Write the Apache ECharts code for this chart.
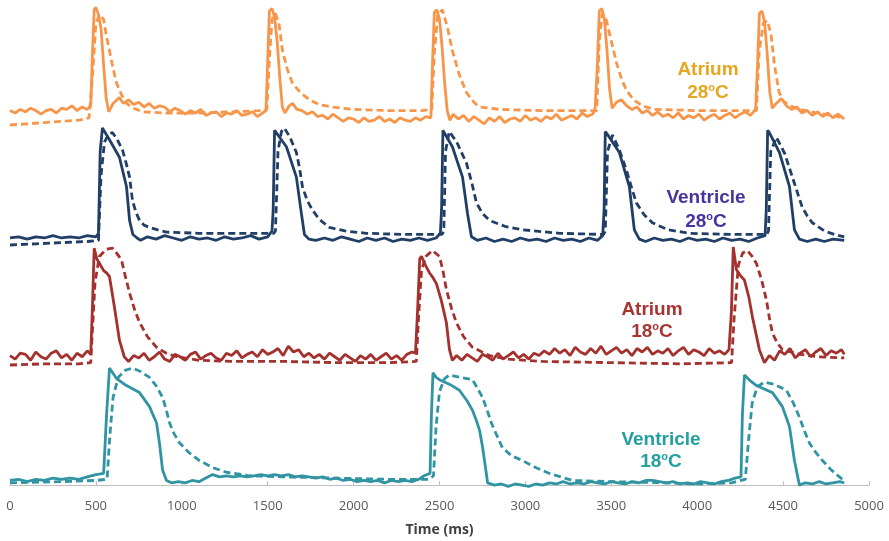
<!DOCTYPE html>
<html>
<head>
<meta charset="utf-8">
<title>Optical action potentials</title>
<script src="https://cdn.jsdelivr.net/npm/echarts@6/dist/echarts.min.js"></script>
<style>
  html, body { margin: 0; padding: 0; background: #fff; }
  #chart { width: 889px; height: 541px; }
</style>
</head>
<body>
<div id="chart"></div>
<script>
// Time axis (ms)
const timeMin = 0;
const timeMax = 5000;
const timeStep = 500;

// Trace names
const traceNames = ['Atrium 28°C', 'Ventricle 28°C', 'Atrium 18°C', 'Ventricle 18°C'];

// Normalised signal (a.u.), [time ms, value] - solid = control, dashed = treated
const atrium28Solid = [
  [0,12],[30,10],[60,13],[90,11],[120,14],[150,12],[180,9],[210,12],[240,13],[270,10],[300,14],[330,13],[360,16],[390,12],[420,15],[450,13],[470,16],
  [480,60],[490,96],[500,98],[515,92],[530,80],[545,50],[560,22],[575,11],[600,18],[637,23],[660,18],[690,21],[720,17],[750,19],[780,15],[810,18],[840,14],[870,16],[900,15],[930,11],[960,14],[990,12],[1020,9],[1050,12],[1080,10],[1110,13],[1140,8],[1170,10],[1200,11],[1230,7],[1260,10],[1290,9],[1320,12],[1350,8],[1380,9],[1410,11],[1440,7],[1470,10],[1490,12],
  [1499,50],[1510,95],[1525,97],[1540,90],[1555,70],[1570,40],[1585,15],[1600,10],[1625,16],[1645,18],[1670,13],[1700,12],[1730,9],[1760,11],[1790,7],[1820,8],[1850,5],[1880,9],[1910,6],[1940,3],[1970,6],[2000,5],[2030,2],[2060,6],[2090,3],[2120,4],[2150,7],[2180,3],[2210,5],[2240,2],[2270,6],[2300,4],[2330,3],[2360,6],[2390,4],[2420,7],[2450,6],
  [2459,50],[2470,94],[2485,96],[2500,88],[2515,65],[2530,35],[2545,12],[2560,4],[2580,9],[2610,5],[2640,8],[2670,3],[2700,7],[2730,4],[2760,1],[2790,6],[2820,3],[2850,7],[2880,2],[2910,5],[2940,6],[2970,3],[3000,8],[3030,4],[3060,6],[3090,3],[3120,7],[3150,5],[3180,9],[3210,4],[3240,6],[3270,8],[3300,5],[3330,10],[3360,7],[3390,9],[3405,12],
  [3419,50],[3430,95],[3445,97],[3460,88],[3475,62],[3490,30],[3505,14],[3530,19],[3558,21],[3590,16],[3620,13],[3650,15],[3680,10],[3710,12],[3740,8],[3770,11],[3800,7],[3830,9],[3860,6],[3890,10],[3920,5],[3950,8],[3980,6],[4010,9],[4040,4],[4070,7],[4100,9],[4130,5],[4160,8],[4190,10],[4220,6],[4250,9],[4280,11],[4310,8],[4340,13],
  [4351,50],[4362,93],[4377,95],[4392,86],[4407,60],[4422,28],[4437,14],[4460,18],[4490,22],[4520,16],[4550,13],[4580,15],[4610,10],[4640,12],[4670,8],[4700,11],[4730,7],[4760,10],[4790,6],[4820,9],[4856,5]
];
const atrium28Dashed = [
  [0,0],[100,1],[200,2],[300,3],[400,4],[460,6],[480,40],[500,85],[521,92],[545,88],[560,75],[579,62],[600,47],[620,35],[650,25],[678,18],[720,14],[771,11],[900,10],[1100,10],[1300,11],[1450,12],
  [1495,13],[1510,55],[1525,88],[1545,93],[1565,85],[1586,62],[1615,46],[1644,35],[1690,27],[1743,21],[1800,17],[1877,15],[2000,13],[2200,12],[2400,12],
  [2455,13],[2470,60],[2490,92],[2517,96],[2545,82],[2575,62],[2615,42],[2657,27],[2700,19],[2733,15],[2850,13],[3100,12],
  [3415,12],[3430,70],[3448,93],[3470,88],[3500,70],[3530,52],[3560,38],[3588,29],[3630,21],[3680,16],[3750,13],[4000,12],
  [4345,12],[4360,60],[4385,85],[4409,87],[4430,75],[4450,50],[4475,28],[4500,20],[4540,16],[4600,13],[4700,10],[4856,6]
];
const ventricle28Solid = [
  [0,6],[50,7],[100,5],[150,7],[200,6],[250,8],[300,6],[350,7],[400,6],[450,8],[500,7],[515,10],
  [525,80],[538,100],[579,90],[637,75],[678,50],[696,21],[715,9],[740,6],[760,4],[800,7],[850,5],[900,8],[950,6],[1000,4],[1050,7],[1100,5],[1150,6],[1200,4],[1250,7],[1300,5],[1350,6],[1400,8],[1450,5],[1500,7],[1525,12],
  [1532,30],[1540,98],[1550,98],[1609,84],[1667,58],[1696,27],[1714,9],[1740,5],[1780,4],[1830,6],[1880,4],[1930,7],[1980,5],[2030,3],[2080,6],[2130,4],[2180,6],[2230,3],[2280,5],[2330,4],[2380,6],[2430,4],[2480,6],[2505,10],
  [2512,30],[2520,98],[2530,97],[2575,84],[2634,58],[2663,27],[2686,7],[2720,4],[2770,6],[2820,3],[2870,5],[2920,3],[2970,6],[3020,4],[3070,5],[3120,3],[3170,6],[3220,4],[3270,5],[3320,3],[3370,6],[3420,4],[3450,8],
  [3458,30],[3465,97],[3475,95],[3547,79],[3605,50],[3634,13],[3663,5],[3700,3],[3750,6],[3800,4],[3850,5],[3900,3],[3950,6],[4000,4],[4050,5],[4100,3],[4150,6],[4200,4],[4250,5],[4300,3],[4350,6],[4395,8],
  [4402,30],[4410,98],[4420,96],[4479,79],[4537,50],[4566,13],[4595,5],[4640,3],[4690,5],[4740,3],[4790,5],[4856,4]
];
const ventricle28Dashed = [
  [0,0],[150,1],[300,2],[450,3],[515,4],[530,60],[550,88],[575,95],[597,96],[625,90],[655,81],[676,70],[696,58],[713,38],[733,28],[754,21],[780,17],[812,15],[860,13],[911,11],[1100,10],[1300,10],[1535,10],
  [1545,12],[1560,80],[1580,97],[1597,100],[1630,92],[1667,79],[1685,66],[1702,50],[1730,38],[1760,30],[1800,22],[1859,15],[1950,12],[2074,10],[2300,9],[2515,9],
  [2525,12],[2535,80],[2557,97],[2600,88],[2657,70],[2690,52],[2715,36],[2750,27],[2791,21],[2880,16],[2983,13],[3200,10],[3455,9],
  [3465,12],[3478,80],[3507,94],[3545,82],[3588,64],[3620,48],[3646,36],[3690,26],[3739,19],[3830,13],[3954,10],[4200,9],[4405,9],
  [4415,12],[4428,80],[4461,92],[4510,78],[4554,58],[4585,44],[4612,32],[4640,25],[4670,19],[4740,12],[4800,9],[4856,7]
];
const atrium18Solid = [
  [0,8],[30,5],[60,10],[90,9],[120,4],[150,11],[180,7],[210,5],[240,10],[270,12],[300,6],[330,9],[360,4],[390,10],[420,7],[450,12],[470,9],
  [480,50],[490,99],[505,90],[521,86],[545,80],[562,78],[579,75],[608,49],[637,21],[665,7],
  [690,3],[720,8],[750,6],[780,10],[810,4],[840,7],[870,11],[900,5],[930,3],[960,9],[990,7],[1020,4],[1050,9],[1080,11],[1110,5],[1140,8],[1170,10],[1200,6],[1230,4],[1260,10],[1290,8],[1320,12],[1350,6],[1380,9],[1410,11],[1440,7],[1470,13],[1500,9],[1530,11],[1560,14],[1590,8],[1620,16],[1650,11],[1680,13],[1710,7],[1740,10],[1770,6],[1800,9],[1830,5],[1860,10],[1890,7],[1920,4],[1950,9],[1980,6],[2010,3],[2040,8],[2070,5],[2100,9],[2130,4],[2160,7],[2190,10],[2220,5],[2250,8],[2280,4],[2310,9],[2340,11],[2360,10],
  [2372,45],[2385,90],[2395,92],[2420,84],[2442,78],[2462,74],[2482,69],[2510,55],[2540,36],[2558,13],[2575,4],
  [2600,8],[2630,4],[2660,9],[2690,6],[2720,3],[2750,9],[2780,7],[2810,4],[2840,10],[2870,5],[2900,8],[2930,11],[2960,6],[2990,9],[3020,5],[3050,10],[3080,8],[3110,12],[3140,9],[3170,14],[3200,10],[3230,13],[3260,8],[3290,15],[3320,11],[3350,9],[3380,14],[3410,10],[3440,16],[3470,9],[3500,12],[3530,15],[3560,10],[3590,13],[3620,8],[3650,14],[3680,11],[3710,15],[3740,9],[3770,12],[3800,10],[3830,14],[3860,8],[3890,12],[3920,15],[3950,9],[3980,13],[4010,11],[4040,8],[4070,14],[4100,10],[4130,12],[4160,9],[4185,13],
  [4199,45],[4210,100],[4228,81],[4250,76],[4275,72],[4300,58],[4321,41],[4362,13],[4391,2],
  [4420,8],[4450,4],[4480,12],[4510,9],[4540,14],[4570,6],[4600,10],[4630,13],[4660,7],[4690,11],[4720,14],[4750,8],[4780,12],[4810,10],[4840,13],[4856,9]
];
const atrium18Dashed = [
  [0,0],[200,1],[400,1],[470,2],[480,30],[495,70],[520,92],[560,98],[597,99],[625,94],[649,89],[670,76],[696,61],[725,47],[754,36],[800,24],[853,15],[910,10],[969,7],[1100,4],[1300,3],[1600,3],[1900,2],[2200,2],[2365,3],
  [2378,40],[2395,80],[2420,92],[2459,97],[2500,92],[2520,80],[2540,64],[2570,48],[2598,36],[2640,24],[2692,15],[2791,8],[2900,5],[3100,3],[3500,2],[3900,1],[4200,2],
  [4215,40],[4240,85],[4265,95],[4292,97],[4320,92],[4345,86],[4375,72],[4403,55],[4420,40],[4438,27],[4465,19],[4496,13],[4600,9],[4700,7],[4856,6]
];
const ventricle18Solid = [
  [0,4],[50,5],[100,3],[150,5],[200,4],[250,6],[300,5],[350,6],[400,5],[450,7],[500,9],[545,10],
  [562,60],[579,100],[620,91],[678,85],[754,79],[812,67],[853,53],[870,36],[888,13],[911,4],[940,2],[980,3],[1020,2],[1060,4],[1100,3],[1140,6],[1180,9],[1220,7],[1260,8],[1300,7],[1340,8],[1380,7],[1420,8],[1460,9],[1500,8],[1540,9],[1580,8],[1620,9],[1660,7],[1700,8],[1740,7],[1780,6],[1820,7],[1860,5],[1900,6],[1940,4],[1980,5],[2020,3],[2060,4],[2100,3],[2140,4],[2180,2],[2220,4],[2260,3],[2300,4],[2340,3],[2380,5],[2410,8],[2445,10],
  [2453,60],[2462,96],[2480,92],[2500,90],[2560,86],[2616,81],[2660,72],[2692,64],[2715,55],[2733,47],[2750,33],[2762,21],[2780,2],[2820,0],[2860,1],[2900,-1],[2940,1],[2980,0],[3020,-1],[3060,1],[3100,0],[3140,2],[3180,1],[3220,3],[3260,1],[3300,2],[3340,1],[3380,3],[3420,2],[3460,1],[3500,3],[3540,2],[3580,1],[3620,3],[3660,2],[3700,4],[3740,4],[3780,3],[3820,2],[3860,3],[3900,1],[3940,2],[3980,1],[4020,3],[4060,2],[4100,1],[4140,3],[4180,4],[4220,6],[4255,7],
  [4263,60],[4275,94],[4310,89],[4345,85],[4390,82],[4438,79],[4496,67],[4537,50],[4566,21],[4595,0],[4630,2],[4670,1],[4710,3],[4750,1],[4790,2],[4830,3],[4856,2]
];
const ventricle18Dashed = [
  [0,2],[300,3],[500,4],[565,5],[580,40],[600,75],[630,92],[670,98],[713,100],[760,97],[812,92],[850,85],[888,75],[910,64],[929,53],[955,44],[987,36],[1040,28],[1103,21],[1180,15],[1260,11],[1394,8],[1600,7],[1900,6],[2200,5],[2440,5],
  [2465,8],[2480,50],[2500,80],[2530,91],[2557,94],[2620,92],[2692,90],[2720,83],[2750,75],[2775,65],[2802,53],[2835,42],[2866,32],[2920,25],[2983,21],[3060,15],[3140,10],[3274,4],[3500,3],[3800,2],[4000,1],[4200,2],[4280,5],
  [4300,40],[4320,70],[4350,84],[4391,88],[4450,86],[4519,81],[4560,70],[4595,58],[4625,46],[4653,36],[4690,28],[4729,21],[4780,13],[4828,7],[4856,4]
];

const traceColors = ['#f7964a', '#213f66', '#a3322f', '#3194a3'];
const labelColors = ['#e6a620', '#4633a0', '#a63532', '#22a0a0'];

document.addEventListener('DOMContentLoaded', function () {
  const chart = echarts.init(document.getElementById('chart'));

  // one stacked panel per trace
  const panels = [
    { top: 5, height: 120, min: 0 },
    { top: 128, height: 117, min: 0 },
    { top: 247, height: 118, min: 0 },
    { top: 368, height: 123, min: -5 }
  ];
  const solids = [atrium28Solid, ventricle28Solid, atrium18Solid, ventricle18Solid];
  const dashes = [atrium28Dashed, ventricle28Dashed, atrium18Dashed, ventricle18Dashed];

  const grids = panels.map(p => ({ left: 10, right: 20, top: p.top, height: p.height }));
  const yAxes = panels.map((p, i) => ({ type: 'value', gridIndex: i, min: p.min, max: 100, show: false }));
  const xAxes = panels.map((p, i) => {
    const last = i === panels.length - 1;
    return {
      type: 'value', gridIndex: i, min: timeMin, max: timeMax, interval: timeStep,
      show: last,
      name: last ? 'Time (ms)' : '',
      nameLocation: 'middle',
      nameGap: 32,
      nameTextStyle: { fontFamily: 'Open Sans', fontWeight: 'bold', fontSize: 14, color: '#404040' },
      axisLine: { lineStyle: { color: '#bfbfbf', width: 1 } },
      axisTick: { show: true, length: 4, inside: true, lineStyle: { color: '#bfbfbf' } },
      axisLabel: {
        fontFamily: 'Open Sans', fontSize: 13, color: '#595959', margin: 9,
        showMinLabel: true, showMaxLabel: true,
        formatter: v => String(v)
      },
      splitLine: { show: false }
    };
  });

  const series = [];
  panels.forEach((p, i) => {
    series.push({
      name: traceNames[i] + ' dashed', type: 'line', xAxisIndex: i, yAxisIndex: i,
      data: dashes[i], symbol: 'none', clip: false,
      lineStyle: { color: traceColors[i], width: 2.8, type: [7, 4] }
    });
    series.push({
      name: traceNames[i], type: 'line', xAxisIndex: i, yAxisIndex: i,
      data: solids[i], symbol: 'none', clip: false,
      lineStyle: { color: traceColors[i], width: 2.8 }
    });
  });

  // trace labels
  const labelPos = [[708, 70, 93, 'Atrium', '28'], [706, 198, 222, 'Ventricle', '28'], [652, 310, 332, 'Atrium', '18'], [661, 440, 462, 'Ventricle', '18']];
  const graphic = [];
  labelPos.forEach((l, i) => {
    const base = { fontFamily: 'Liberation Sans', fontWeight: 'bold', fontSize: 19, fill: labelColors[i] };
    graphic.push({
      type: 'text', x: l[0], y: l[1],
      style: Object.assign({ text: l[3], align: 'center', verticalAlign: 'middle' }, base)
    });
    graphic.push({
      type: 'text', x: l[0], y: l[2],
      style: Object.assign({
        text: '{n|' + l[4] + '}{s|o}{n|C}', align: 'center', verticalAlign: 'middle',
        rich: {
          n: { fontFamily: 'Liberation Sans', fontWeight: 'bold', fontSize: 19, lineHeight: 22, fill: labelColors[i] },
          s: { fontFamily: 'Liberation Sans', fontWeight: 'bold', fontSize: 11, lineHeight: 22, verticalAlign: 'top', padding: [0, 0, 8, 0], fill: labelColors[i] }
        }
      }, base)
    });
  });

  chart.setOption({
    animation: false,
    grid: grids,
    xAxis: xAxes,
    yAxis: yAxes,
    series: series,
    graphic: graphic
  });
  window.addEventListener('resize', function () { chart.resize(); });
});
</script>
</body>
</html>
